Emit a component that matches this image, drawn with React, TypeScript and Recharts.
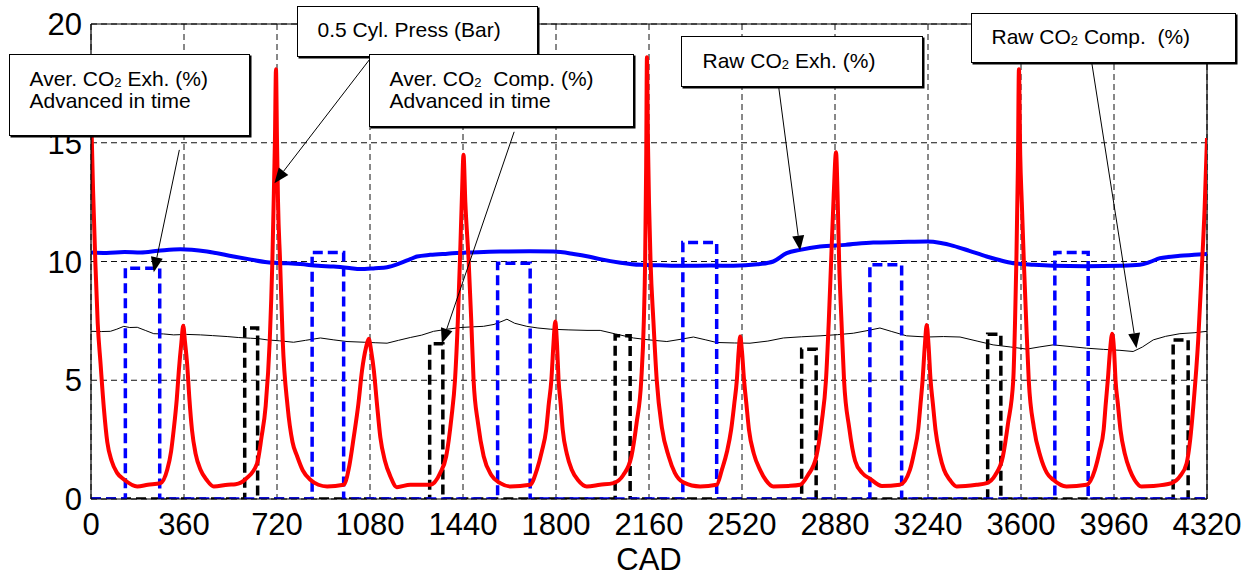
import React from "react";
import { CartesianGrid, Line, LineChart, ReferenceLine, XAxis, YAxis } from "recharts";

const X_TICKS = [0, 360, 720, 1080, 1440, 1800, 2160, 2520, 2880, 3240, 3600, 3960, 4320];
const Y_TICKS = [0, 5, 10, 15, 20];

// [CAD, value] pairs
const cylPress: [number, number][] = [
  [0, 16.5], [8, 13.0], [17, 9.9], [26, 7.4], [37, 5.7], [50, 3.8], [63, 2.4], [80, 1.6], [101, 1.1], [130, 0.8], [179, 0.53], [220, 0.6], [269, 0.67],
  [295, 1.23], [310, 2.0], [320, 2.9], [332, 4.2], [340, 5.4], [350, 6.6], [357, 7.3], [364, 6.6], [372, 5.7], [381, 4.2], [391, 2.9], [405, 1.9], [424, 1.23], [448, 0.8], [475, 0.53], [530, 0.6],
  [560, 0.62], [600, 0.85], [643, 1.5], [660, 2.6], [676, 3.9], [692, 6.7], [702, 10.0], [709, 13.5], [712, 15.1], [716, 18.1], [720, 15.1], [724, 12.5], [732, 10.0], [742, 6.7], [761, 3.9], [780, 2.4], [798, 1.8], [820, 1.2], [849, 0.81], [880, 0.6], [914, 0.53], [978, 0.6],
  [1000, 1.4], [1017, 2.6], [1035, 4.0], [1049, 5.4], [1065, 6.4], [1075, 6.75], [1085, 6.2], [1095, 5.4], [1107, 4.0], [1120, 2.6], [1138, 1.6], [1159, 0.95], [1184, 0.5], [1236, 0.6], [1313, 0.6], [1352, 1.1],
  [1375, 1.8], [1395, 3.4], [1409, 5.0], [1420, 7.5], [1428, 10.0], [1436, 12.8], [1442, 14.5], [1449, 12.5], [1462, 10.0], [1472, 7.5], [1481, 5.0], [1498, 3.2], [1520, 1.8], [1550, 1.0], [1584, 0.67], [1623, 0.53], [1700, 0.6],
  [1726, 1.23], [1745, 2.0], [1762, 2.92], [1772, 4.0], [1782, 5.0], [1790, 6.5], [1797, 7.47], [1804, 6.5], [1810, 5.0], [1818, 4.0], [1826, 2.92], [1842, 1.9], [1861, 1.23], [1885, 0.8], [1919, 0.53], [1970, 0.6], [2022, 0.67], [2060, 1.0],
  [2092, 1.8], [2112, 3.2], [2130, 5.0], [2140, 7.5], [2145, 10.0], [2149, 14.0], [2152, 18.6], [2156, 15.0], [2160, 12.5], [2166, 10.0], [2177, 7.5], [2190, 5.0], [2210, 3.0], [2236, 1.8], [2260, 1.1], [2293, 0.7], [2358, 0.53], [2422, 0.6],
  [2442, 1.23], [2462, 2.0], [2478, 2.92], [2490, 4.0], [2500, 5.0], [2507, 6.2], [2513, 6.84], [2520, 6.2], [2528, 5.0], [2537, 4.0], [2547, 2.92], [2566, 1.9], [2590, 1.23], [2612, 0.8], [2641, 0.53], [2700, 0.55], [2745, 0.6], [2775, 1.0],
  [2808, 1.8], [2828, 3.2], [2845, 5.0], [2856, 7.5], [2865, 10.0], [2875, 12.8], [2884, 14.6], [2890, 12.8], [2896, 10.0], [2905, 7.5], [2915, 5.0], [2935, 3.0], [2958, 1.6], [2985, 1.1], [3016, 0.85], [3061, 0.55], [3131, 0.6],
  [3170, 1.23], [3187, 2.0], [3202, 2.92], [3211, 4.0], [3219, 5.0], [3228, 6.5], [3235, 7.33], [3242, 6.5], [3250, 5.0], [3259, 4.0], [3269, 2.92], [3285, 1.9], [3302, 1.23], [3325, 0.8], [3351, 0.53], [3428, 0.6], [3467, 0.67], [3500, 1.0],
  [3530, 1.8], [3550, 3.2], [3570, 5.0], [3577, 7.5], [3582, 10.0], [3588, 14.0], [3592, 18.1], [3597, 14.5], [3603, 12.5], [3611, 10.0], [3620, 7.5], [3630, 5.0], [3650, 3.0], [3675, 1.8], [3700, 1.1], [3725, 0.81], [3776, 0.53], [3854, 0.6],
  [3886, 1.23], [3904, 2.0], [3920, 2.92], [3928, 4.0], [3936, 5.0], [3945, 6.3], [3953, 6.96], [3960, 6.3], [3966, 5.0], [3975, 4.0], [3985, 2.92], [4002, 1.9], [4021, 1.23], [4040, 0.8], [4066, 0.53], [4112, 0.55], [4183, 0.67],
  [4215, 0.95], [4241, 1.5], [4255, 2.5], [4267, 3.9], [4286, 6.7], [4299, 9.5], [4311, 12.3], [4320, 15.2],
];

const rawCo2Exh: [number, number][] = [
  [0, 10.38], [60, 10.36], [130, 10.4], [192, 10.38], [260, 10.45], [346, 10.52], [449, 10.42], [552, 10.21], [620, 10.08], [682, 9.97], [750, 9.93], [810, 9.89], [880, 9.82], [939, 9.79], [1000, 9.73], [1042, 9.68], [1100, 9.72], [1146, 9.76], [1197, 9.93], [1236, 10.1], [1262, 10.21], [1313, 10.28], [1380, 10.33], [1455, 10.38], [1520, 10.4], [1584, 10.42], [1700, 10.43], [1790, 10.42], [1868, 10.32], [1930, 10.2], [1971, 10.1], [2050, 9.95], [2126, 9.86], [2200, 9.84], [2293, 9.82], [2400, 9.83], [2487, 9.82], [2580, 9.88], [2641, 10.0], [2693, 10.35], [2745, 10.49], [2822, 10.63], [2920, 10.7], [3028, 10.8], [3130, 10.82], [3235, 10.84], [3290, 10.78], [3338, 10.66], [3400, 10.45], [3467, 10.21], [3520, 10.05], [3570, 9.93], [3650, 9.86], [3725, 9.82], [3850, 9.8], [3983, 9.82], [4060, 9.86], [4100, 9.98], [4138, 10.14], [4215, 10.24], [4270, 10.28], [4320, 10.32],
];

const rawCo2Comp: [number, number][] = [
  [0, 7.06], [40, 7.05], [75, 7.06], [100, 7.15], [127, 7.27], [150, 7.22], [179, 7.23], [210, 7.1], [243, 6.96], [280, 6.95], [320, 6.91], [370, 6.93], [424, 6.91], [470, 6.88], [527, 6.84], [570, 6.8], [617, 6.77], [650, 6.75], [682, 6.7], [730, 6.66], [784, 6.6], [830, 6.68], [888, 6.78], [940, 6.7], [991, 6.63], [1060, 6.6], [1100, 6.58], [1146, 6.56], [1190, 6.68], [1236, 6.8], [1280, 6.9], [1326, 7.06], [1380, 7.15], [1429, 7.22], [1480, 7.25], [1519, 7.27], [1560, 7.35], [1595, 7.5], [1610, 7.57], [1640, 7.4], [1687, 7.27], [1730, 7.2], [1778, 7.15], [1850, 7.12], [1920, 7.1], [1971, 7.1], [2030, 6.95], [2100, 6.78], [2160, 6.7], [2229, 6.63], [2280, 6.72], [2332, 6.82], [2380, 6.7], [2422, 6.59], [2490, 6.57], [2551, 6.56], [2620, 6.65], [2680, 6.78], [2750, 6.83], [2822, 6.87], [2890, 6.92], [2951, 6.98], [3000, 7.08], [3054, 7.2], [3100, 7.05], [3157, 6.87], [3235, 6.82], [3300, 6.84], [3364, 6.82], [3430, 6.65], [3492, 6.49], [3560, 6.4], [3622, 6.31], [3670, 6.4], [3725, 6.49], [3790, 6.42], [3854, 6.35], [3920, 6.3], [3983, 6.26], [4034, 6.21], [4070, 6.4], [4112, 6.7], [4160, 6.85], [4215, 6.96], [4270, 7.0], [4320, 7.06],
];

const avgCo2Exh: [number, number][] = [
  [0, 0], [133, 0], [133, 9.72], [266, 9.72], [266, 0], [856, 0], [856, 10.38], [978, 10.38], [978, 0], [1574, 0], [1574, 9.93], [1700, 9.93], [1700, 0], [2291, 0], [2291, 10.8], [2422, 10.8], [2422, 0], [3015, 0], [3015, 9.86], [3138, 9.86], [3138, 0], [3731, 0], [3731, 10.38], [3860, 10.38], [3860, 0], [4320, 0],
];

const avgCo2Comp: [number, number][] = [
  [0, 0], [595, 0], [595, 7.2], [645, 7.2], [645, 0], [1311, 0], [1311, 6.54], [1362, 6.54], [1362, 0], [2029, 0], [2029, 6.87], [2087, 6.87], [2087, 0], [2751, 0], [2751, 6.31], [2807, 6.31], [2807, 0], [3471, 0], [3471, 6.94], [3522, 6.94], [3522, 0], [4189, 0], [4189, 6.7], [4247, 6.7], [4247, 0], [4320, 0],
];

// arrow start / end in data units
const arrows: [number, number, number, number][] = [
  [342, 14.7, 243, 9.55],
  [1085, 18.6, 710, 13.3],
  [1638, 15.46, 1358, 6.55],
  [2662, 17.35, 2745, 10.46],
  [3874, 18.36, 4047, 6.35],
];

const toPts = (arr: [number, number][]) => arr.map(([x, y]) => ({ x, y }));

const FONT = '"Liberation Sans", Arial, sans-serif';

function Arrow(props: any) {
  const { x1, y1, x2, y2 } = props;
  const dx = x2 - x1;
  const dy = y2 - y1;
  const len = Math.sqrt(dx * dx + dy * dy) || 1;
  const ux = dx / len;
  const uy = dy / len;
  const hl = 15;
  const hw = 6;
  const bx = x2 - ux * hl;
  const by = y2 - uy * hl;
  const pts = `${x2},${y2} ${bx - uy * hw},${by + ux * hw} ${bx + uy * hw},${by - ux * hw}`;
  return (
    <g>
      <line x1={x1} y1={y1} x2={bx} y2={by} stroke="#000" strokeWidth={1} />
      <polygon points={pts} fill="#000" />
    </g>
  );
}

const Co2 = () => (
  <>
    CO<span style={{ fontSize: 13, position: "relative", top: 1 }}>2</span>
  </>
);

function Box(props: {
  left: number;
  top: number;
  width: number;
  height: number;
  textLeft: number;
  textTop: number;
  lines: React.ReactNode[];
}) {
  const { left, top, width, height, textLeft, textTop, lines } = props;
  return (
    <div
      style={{
        position: "absolute",
        left,
        top,
        width,
        height,
        boxSizing: "border-box",
        border: "1.5px solid #000",
        boxShadow: "1.5px 1.5px 0 #000",
        background: "#fff",
      }}
    >
      {lines.map((ln, i) => (
        <div
          key={i}
          style={{
            position: "absolute",
            left: textLeft - left - 1.5,
            top: textTop - top - 1.5 + i * 22.5,
            fontSize: 21,
            lineHeight: "22px",
            whiteSpace: "pre",
            color: "#000",
          }}
        >
          {ln}
        </div>
      ))}
    </div>
  );
}

export default function App() {
  const tickStyle = { fontSize: 31, fill: "#000", fontFamily: FONT };
  return (
    <div
      style={{
        position: "absolute",
        left: 0,
        top: 0,
        width: 1255,
        height: 577,
        background: "#fff",
        fontFamily: FONT,
      }}
    >
      <LineChart width={1255} height={577} margin={{ top: 24, right: 48, bottom: 3, left: 11 }}>
        <CartesianGrid stroke="#111" strokeWidth={1} strokeDasharray="6 4" />
        <XAxis
          type="number"
          dataKey="x"
          domain={[0, 4320]}
          ticks={X_TICKS}
          allowDataOverflow
          height={75}
          tickLine={false}
          tickSize={0}
          tickMargin={14}
          tick={tickStyle}
          axisLine={{ stroke: "#000", strokeWidth: 1.2 }}
          label={{ value: "CAD", position: "insideBottom", offset: 4, fontSize: 31, fill: "#000", fontFamily: FONT }}
        />
        <YAxis
          type="number"
          dataKey="y"
          domain={[0, 20]}
          ticks={Y_TICKS}
          allowDataOverflow
          width={80}
          tickLine={false}
          tickSize={0}
          tickMargin={9}
          tick={tickStyle}
          axisLine={{ stroke: "#000", strokeWidth: 1.2 }}
        />
        <ReferenceLine y={20} stroke="#000" strokeWidth={1.2} />
        <ReferenceLine x={4320} stroke="#000" strokeWidth={1.2} />
        <Line
          data={toPts(rawCo2Comp)}
          dataKey="y"
          type="linear"
          stroke="#000"
          strokeWidth={1}
          dot={false}
          activeDot={false}
          isAnimationActive={false}
        />
        <Line
          data={toPts(rawCo2Exh)}
          dataKey="y"
          type="monotone"
          stroke="#0000ff"
          strokeWidth={4}
          dot={false}
          activeDot={false}
          isAnimationActive={false}
        />
        <Line
          data={toPts(avgCo2Comp)}
          dataKey="y"
          type="linear"
          stroke="#000"
          strokeWidth={3.5}
          strokeDasharray="10 5"
          dot={false}
          activeDot={false}
          isAnimationActive={false}
        />
        <Line
          data={toPts(avgCo2Exh)}
          dataKey="y"
          type="linear"
          stroke="#0000ff"
          strokeWidth={3.5}
          strokeDasharray="10 5"
          dot={false}
          activeDot={false}
          isAnimationActive={false}
        />
        <Line
          data={toPts(cylPress)}
          dataKey="y"
          type="monotone"
          stroke="#ff0000"
          strokeWidth={4}
          strokeLinejoin="round"
          dot={false}
          activeDot={false}
          isAnimationActive={false}
        />
        {arrows.map(([xa, ya, xb, yb], i) => (
          <ReferenceLine
            key={i}
            segment={[
              { x: xa, y: ya },
              { x: xb, y: yb },
            ]}
            ifOverflow="visible"
            shape={Arrow}
          />
        ))}
      </LineChart>

      <Box
        left={9}
        top={54}
        width={241}
        height={82}
        textLeft={30}
        textTop={68}
        lines={[<>Aver. <Co2 /> Exh. (%)</>, "Advanced in time"]}
      />
      <Box left={297} top={6} width={241} height={51} textLeft={318} textTop={19} lines={["0.5 Cyl. Press (Bar)"]} />
      <Box
        left={369}
        top={54}
        width={265}
        height={73}
        textLeft={390}
        textTop={68}
        lines={[<>Aver. <Co2 />{"  Comp. (%)"}</>, "Advanced in time"]}
      />
      <Box left={681} top={36} width={242} height={51} textLeft={703} textTop={50} lines={[<>Raw <Co2 /> Exh. (%)</>]} />
      <Box
        left={971}
        top={13}
        width={265}
        height={50}
        textLeft={992}
        textTop={26}
        lines={[<>Raw <Co2 />{" Comp.  (%)"}</>]}
      />
    </div>
  );
}
